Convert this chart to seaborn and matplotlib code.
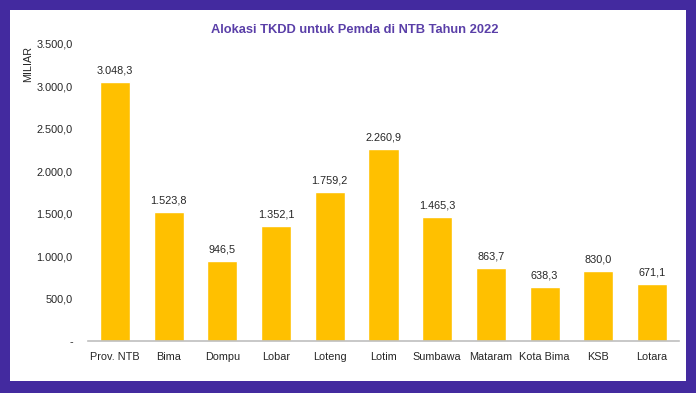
import matplotlib
matplotlib.use("Agg")
import matplotlib.pyplot as plt
import seaborn as sns
import pandas as pd
from matplotlib.patches import Rectangle

regions = ["Prov. NTB", "Bima", "Dompu", "Lobar", "Loteng", "Lotim",
           "Sumbawa", "Mataram", "Kota Bima", "KSB", "Lotara"]
alokasi = [3048.3, 1523.8, 946.5, 1352.1, 1759.2, 2260.9,
           1465.3, 863.7, 638.3, 830.0, 671.1]
y_ticks = [0, 500, 1000, 1500, 2000, 2500, 3000, 3500]

PURPLE = "#432a9f"
GOLD = "#ffc000"
TXT = "#262626"
FS = 7.8


def id_fmt(v):
    if v == 0:
        return "-"
    s = f"{v:,.1f}"
    return s.replace(",", "X").replace(".", ",").replace("X", ".")


sns.set_theme(style="white")
plt.rcParams["font.family"] = ["Liberation Sans", "DejaVu Sans"]

df = pd.DataFrame({"region": regions, "alokasi": alokasi})

fig = plt.figure(figsize=(6.96, 3.93), dpi=100, facecolor=PURPLE)
# white card inside the purple frame
fig.patches.append(Rectangle((10 / 696, 12 / 393), 676 / 696, 371 / 393,
                             transform=fig.transFigure, facecolor="white",
                             edgecolor="none", zorder=-5))

ax = fig.add_axes([88 / 696, 52 / 393, 591 / 696, 297 / 393])
ax.set_facecolor("none")
ax.set_zorder(2)
sns.barplot(data=df, x="region", y="alokasi", color=GOLD, width=0.56,
            saturation=1, ax=ax)

ax.set_xlim(-0.5, len(regions) - 0.5)
ax.set_ylim(0, 3500)
ax.set_yticks(y_ticks)
ax.set_yticklabels([id_fmt(v) for v in y_ticks], fontsize=FS, color=TXT)
ax.tick_params(axis="x", labelsize=FS, colors=TXT, length=0, pad=8)
ax.tick_params(axis="y", length=0, pad=11)
ax.set_xlabel("")
ax.set_ylabel("")

for s in ["top", "right", "left"]:
    ax.spines[s].set_visible(False)
ax.spines["bottom"].set_color("#bfbfbf")
ax.spines["bottom"].set_linewidth(1.2)

for i, v in enumerate(alokasi):
    ax.text(i, v + 75, id_fmt(v), ha="center", va="bottom", fontsize=FS,
            color=TXT)

fig.text(28 / 696, 1 - 64 / 393, "MILIAR", rotation=90, ha="center",
         va="center", fontsize=FS, color=TXT)
fig.text(355 / 696, 1 - 30 / 393, "Alokasi TKDD untuk Pemda di NTB Tahun 2022",
         ha="center", va="center", fontsize=9.3, fontweight="bold",
         color="#5a3fa8")

fig.savefig("out.png", dpi=100, facecolor=PURPLE)
